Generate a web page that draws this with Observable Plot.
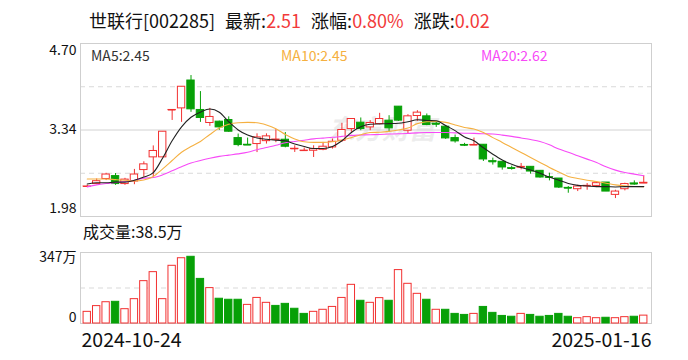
<!DOCTYPE html>
<html><head><meta charset="utf-8">
<script src="https://cdn.jsdelivr.net/npm/d3@7"></script>
<script src="https://cdn.jsdelivr.net/npm/@observablehq/plot@0.6"></script>
<style>
body{margin:0;background:#fff;}
#wrap{position:relative;width:688px;height:360px;overflow:hidden;font-family:"Noto Sans CJK SC","Noto Sans",sans-serif;color:#111;}
.abs{position:absolute;white-space:nowrap;line-height:1;}
.red{color:#f23a3a;}
.grp{margin-left:10px;}
svg{position:absolute;left:0;}
</style></head><body><div id="wrap"></div>
<script>
// ---- text ----
const stockName = "世联行[002285]";
const latestLabel = "最新:", latestValue = "2.51";
const pctLabel = "涨幅:", pctValue = "0.80%";
const chgLabel = "涨跌:", chgValue = "0.02";
const maLabels = ["MA5:2.45", "MA10:2.45", "MA20:2.62"];
const volLabel = "成交量:38.5万";
const dateLabels = ["2024-10-24", "2025-01-16"];
const watermark = "东方财富";

// ---- axis ticks ----
const priceTicks = [4.70, 3.34, 1.98];
const priceDashTicks = [4.02, 2.66];
const volTicks = [0, 347];
const volDashTicks = [173.5];

// ---- candles (60 trading days) ----
const opens  = [2.45,2.49,2.57,2.615,2.49,2.53,2.71,2.91,2.91,3.652,3.68,4.118,3.655,3.45,3.471,3.497,3.213,3.108,3.119,3.165,
                3.185,3.187,3.04,3.012,3.014,3.029,3.066,3.171,3.355,3.455,3.381,3.434,3.487,3.707,3.329,3.56,3.555,3.44,3.392,3.213,
                3.105,3.10,3.108,2.85,2.84,2.74,2.75,2.761,2.698,2.598,2.577,2.43,2.409,2.458,2.461,2.514,2.32,2.409,2.50,2.50];
const highs  = [2.47,2.57,2.66,2.656,2.58,2.72,2.84,3.09,3.313,3.655,4.02,4.196,3.944,3.68,3.48,3.547,3.276,3.213,3.28,3.28,
                3.345,3.30,3.092,3.056,3.092,3.145,3.198,3.445,3.513,3.529,3.487,3.602,3.565,3.707,3.581,3.644,3.592,3.46,3.408,3.261,
                3.13,3.213,3.108,2.898,2.84,2.772,2.814,2.761,2.698,2.661,2.577,2.451,2.472,2.498,2.514,2.514,2.393,2.504,2.54,2.62];
const lows   = [2.44,2.48,2.545,2.47,2.47,2.48,2.60,2.60,2.908,3.49,3.46,3.618,3.46,3.397,3.335,3.303,3.077,3.103,2.985,3.119,
                3.14,3.06,2.987,3.005,2.908,3.014,3.04,3.145,3.303,3.329,3.329,3.424,3.303,3.476,3.276,3.476,3.408,3.381,3.192,3.134,
                3.08,3.10,2.845,2.788,2.709,2.709,2.714,2.646,2.583,2.54,2.42,2.346,2.372,2.393,2.435,2.372,2.262,2.383,2.472,2.498];
const closes = [2.452,2.535,2.64,2.49,2.56,2.64,2.80,3.01,3.313,3.655,4.02,3.665,3.529,3.545,3.381,3.313,3.103,3.103,3.224,3.24,
                3.19,3.077,3.045,3.016,3.04,3.077,3.155,3.34,3.513,3.355,3.45,3.513,3.366,3.487,3.555,3.613,3.418,3.43,3.208,3.161,
                3.10,3.105,2.877,2.84,2.751,2.735,2.76,2.687,2.593,2.593,2.435,2.425,2.451,2.462,2.504,2.372,2.372,2.49,2.49,2.51];

// ---- moving averages ----
const ma5  = [2.49,2.51,2.51,2.52,2.52,2.55,2.60,2.67,2.90,3.17,3.39,3.54,3.62,3.67,3.62,3.47,3.34,3.26,3.215,3.195,
              3.18,3.17,3.12,3.08,3.05,3.05,3.08,3.17,3.30,3.39,3.43,3.435,3.44,3.445,3.47,3.50,3.49,3.485,3.41,3.33,
              3.23,3.17,3.06,2.96,2.87,2.80,2.75,2.71,2.66,2.60,2.55,2.50,2.47,2.46,2.45,2.45,2.445,2.45,2.45,2.45];
const ma10 = [2.57,2.57,2.57,2.56,2.55,2.54,2.555,2.61,2.73,2.86,2.99,3.08,3.16,3.27,3.37,3.43,3.455,3.46,3.455,3.42,
              3.36,3.27,3.20,3.155,3.145,3.145,3.155,3.18,3.22,3.265,3.30,3.305,3.318,3.34,3.37,3.44,3.47,3.475,3.46,3.42,
              3.38,3.355,3.30,3.22,3.145,3.066,2.987,2.908,2.83,2.751,2.68,2.61,2.577,2.551,2.53,2.504,2.477,2.461,2.452,2.45];
const ma20 = [2.446,2.477,2.498,2.514,2.53,2.551,2.583,2.593,2.635,2.698,2.761,2.82,2.86,2.895,2.925,2.945,2.965,2.99,3.03,3.065,
              3.10,3.14,3.16,3.18,3.20,3.213,3.225,3.24,3.255,3.261,3.266,3.27,3.276,3.28,3.287,3.295,3.30,3.30,3.30,3.295,
              3.29,3.287,3.28,3.276,3.26,3.24,3.215,3.19,3.16,3.108,3.04,2.99,2.935,2.882,2.83,2.761,2.709,2.672,2.646,2.62];

// ---- volume (万) and its colour (1 = red / up) ----
const volumes = [57,85,104,106,70,119,207,251,119,282,319,326,218,173,121,116,116,91,125,101,
                 86,96,72,47,57,67,81,125,189,111,101,124,111,261,194,145,116,67,67,47,
                 42,47,81,52,37,33,47,42,33,37,47,33,26,31,26,28,26,31,33,38.5];
const volUp = [1,1,1,0,1,1,1,1,1,1,1,0,0,1,0,0,0,1,1,1,
               0,0,0,0,1,1,1,1,1,0,1,1,0,1,1,1,0,1,0,0,
               0,1,0,0,0,0,1,0,0,0,0,0,1,1,1,0,1,1,0,1];

const RED = "#f23030", GREEN = "#07a007";
const FONT = '"Noto Sans CJK SC","Noto Sans",sans-serif';
const N = opens.length;
const idx = d3.range(N);
const rows = idx.map(i => ({
  i, o: opens[i], h: highs[i], l: lows[i], c: closes[i],
  up: closes[i] >= opens[i], ma5: ma5[i], ma10: ma10[i], ma20: ma20[i],
  v: volumes[i], vup: !!volUp[i]
}));

const wrap = document.getElementById("wrap");
function addText(html, left, top, size, color) {
  const d = document.createElement("div");
  d.className = "abs";
  d.style.left = left + "px"; d.style.top = top + "px";
  d.style.fontSize = size + "px"; if (color) d.style.color = color;
  d.innerHTML = html; wrap.appendChild(d); return d;
}

// title line
addText(`${stockName}<span class="grp">${latestLabel}<span class="red">${latestValue}</span></span><span class="grp">${pctLabel}<span class="red">${pctValue}</span></span><span class="grp">${chgLabel}<span class="red">${chgValue}</span></span>`, 89, 11, 18, "#111");
addText(maLabels[0], 91, 48, 14, "#333");
addText(maLabels[1], 281, 48, 14, "#f5b041");
addText(maLabels[2], 481, 48, 14, "#f74af7");
addText(volLabel, 83, 223, 16, "#111");

const xScale = {type: "band", domain: idx, padding: 0.22, round: false, axis: null};
const lab = {fontSize: 14, fill: "#111", fontFamily: FONT};

const main = Plot.plot({
  width: 688, height: 225,
  marginLeft: 80, marginRight: 37, marginTop: 43, marginBottom: 9,
  insetLeft: 1, insetRight: 2,
  x: xScale,
  y: {domain: [priceTicks[2], priceTicks[0]], axis: null},
  color: {type: "identity"},
  style: {fontFamily: FONT, background: "transparent", overflow: "visible"},
  marks: [
    Plot.text([watermark], {frameAnchor: "middle", dx: 16, text: d => d, fill: "#ececec", fontSize: 27, fontWeight: "bold", fontStyle: "italic"}),
    Plot.ruleY(priceDashTicks, {stroke: "#d9d9d9", strokeDasharray: "5,4"}),
    Plot.ruleY([priceTicks[1]], {stroke: "#d2d2d2"}),
    Plot.frame({stroke: "#cfcfcf"}),
    Plot.ruleX(rows, {x: "i", y1: "l", y2: "h", stroke: d => d.up ? RED : GREEN}),
    Plot.barY(rows, {x: "i", y1: "o", y2: "c", fill: d => d.up ? "#fff" : GREEN, stroke: d => d.up ? RED : GREEN}),
    Plot.tickY(rows.filter(d => Math.abs(d.c - d.o) < 0.02), {x: "i", y: "c", stroke: d => d.up ? RED : GREEN}),
    Plot.line(rows, {x: "i", y: "ma20", stroke: "#f74af7", strokeWidth: 1.1, curve: "monotone-x"}),
    Plot.line(rows, {x: "i", y: "ma10", stroke: "#f5b041", strokeWidth: 1.1, curve: "monotone-x"}),
    Plot.line(rows, {x: "i", y: "ma5", stroke: "#222", strokeWidth: 1.1, curve: "monotone-x"}),
    Plot.text([priceTicks[0]], {y: d => d, text: d => d.toFixed(2), frameAnchor: "left", dx: -4, dy: 2, textAnchor: "end", lineAnchor: "top", ...lab}),
    Plot.text([priceTicks[1]], {y: d => d, text: d => d.toFixed(2), frameAnchor: "left", dx: -4, textAnchor: "end", lineAnchor: "middle", ...lab}),
    Plot.text([priceTicks[2]], {y: d => d, text: d => d.toFixed(2), frameAnchor: "left", dx: -4, dy: -4, textAnchor: "end", lineAnchor: "bottom", ...lab})
  ]
});
main.style.top = "0px";
wrap.appendChild(main);

const vol = Plot.plot({
  width: 688, height: 120,
  marginLeft: 80, marginRight: 37, marginTop: 12, marginBottom: 37,
  insetLeft: 1, insetRight: 2,
  x: xScale,
  y: {domain: [volTicks[0], volTicks[1]], axis: null},
  color: {type: "identity"},
  style: {fontFamily: FONT, background: "transparent", overflow: "visible"},
  marks: [
    Plot.ruleY(volDashTicks, {stroke: "#d9d9d9", strokeDasharray: "5,4"}),
    Plot.frame({stroke: "#cfcfcf"}),
    Plot.barY(rows, {x: "i", y: "v", fill: d => d.vup ? "#fff" : GREEN, stroke: d => d.vup ? RED : GREEN}),
    Plot.text([volTicks[1]], {y: d => d, text: d => d + "万", frameAnchor: "left", dx: -4, textAnchor: "end", lineAnchor: "top", ...lab}),
    Plot.text([volTicks[0]], {y: d => d, text: d => String(d), frameAnchor: "left", dx: -4, dy: -2, textAnchor: "end", lineAnchor: "bottom", ...lab}),
    Plot.text([dateLabels[0]], {text: d => d, frameAnchor: "bottom-left", dx: 1, dy: 17, textAnchor: "start", lineAnchor: "middle", fontSize: 19.5, fill: "#111", fontFamily: FONT}),
    Plot.text([dateLabels[1]], {text: d => d, frameAnchor: "bottom-right", dy: 17, textAnchor: "end", lineAnchor: "middle", fontSize: 19.5, fill: "#111", fontFamily: FONT})
  ]
});
vol.style.top = "240px";
wrap.appendChild(vol);
</script>
</body></html>
